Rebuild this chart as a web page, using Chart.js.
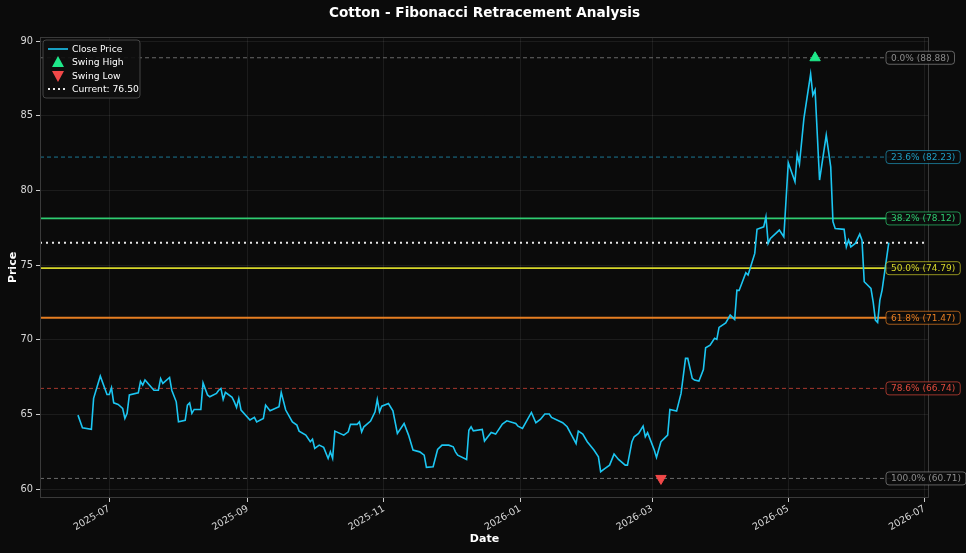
<!DOCTYPE html>
<html>
<head>
<meta charset="utf-8">
<script src="https://cdn.jsdelivr.net/npm/chart.js@4.4.0/dist/chart.umd.min.js"></script>
<style>
  html, body { margin: 0; padding: 0; background: #0b0b0b; }
  #wrap { width: 966px; height: 553px; }
</style>
</head>
<body>
<div id="wrap"><canvas id="myChart" width="966" height="553"></canvas></div>
<script>
// close prices
var dates = [
  '2025-06-17','2025-06-19','2025-06-23','2025-06-24','2025-06-27','2025-06-30','2025-07-01','2025-07-02','2025-07-03','2025-07-05',
  '2025-07-07','2025-07-08','2025-07-09','2025-07-10','2025-07-14','2025-07-15','2025-07-16','2025-07-17','2025-07-21','2025-07-23',
  '2025-07-24','2025-07-25','2025-07-28','2025-07-29','2025-07-31','2025-08-01','2025-08-04','2025-08-05','2025-08-06','2025-08-07',
  '2025-08-08','2025-08-11','2025-08-12','2025-08-14','2025-08-15','2025-08-18','2025-08-19','2025-08-20','2025-08-21','2025-08-22',
  '2025-08-25','2025-08-26','2025-08-27','2025-08-28','2025-08-29','2025-09-02','2025-09-04','2025-09-05','2025-09-08','2025-09-09',
  '2025-09-11','2025-09-15','2025-09-16','2025-09-18','2025-09-21','2025-09-23','2025-09-24','2025-09-27','2025-09-29','2025-09-30',
  '2025-10-01','2025-10-03','2025-10-05','2025-10-07','2025-10-08','2025-10-09','2025-10-10','2025-10-14','2025-10-16','2025-10-17',
  '2025-10-20','2025-10-21','2025-10-22','2025-10-23','2025-10-26','2025-10-28','2025-10-29','2025-10-30','2025-10-31','2025-11-03',
  '2025-11-05','2025-11-07','2025-11-10','2025-11-12','2025-11-14','2025-11-17','2025-11-19','2025-11-20','2025-11-23','2025-11-25',
  '2025-11-27','2025-11-30','2025-12-02','2025-12-03','2025-12-04','2025-12-08','2025-12-09','2025-12-10','2025-12-11','2025-12-15',
  '2025-12-16','2025-12-19','2025-12-21','2025-12-24','2025-12-26','2025-12-30','2025-12-31','2026-01-02','2026-01-06','2026-01-08',
  '2026-01-10','2026-01-12','2026-01-14','2026-01-15','2026-01-20','2026-01-22','2026-01-24','2026-01-26','2026-01-27','2026-01-29',
  '2026-01-31','2026-02-03','2026-02-05','2026-02-06','2026-02-08','2026-02-10','2026-02-12','2026-02-14','2026-02-17','2026-02-18',
  '2026-02-20','2026-02-21','2026-02-23','2026-02-25','2026-02-26','2026-02-27','2026-02-28','2026-03-02','2026-03-03','2026-03-05',
  '2026-03-08','2026-03-09','2026-03-12','2026-03-14','2026-03-16','2026-03-17','2026-03-19','2026-03-20','2026-03-22','2026-03-24',
  '2026-03-25','2026-03-27','2026-03-29','2026-03-30','2026-03-31','2026-04-03','2026-04-05','2026-04-07','2026-04-08','2026-04-09',
  '2026-04-12','2026-04-13','2026-04-16','2026-04-17','2026-04-20','2026-04-21','2026-04-22','2026-04-23','2026-04-27','2026-04-29',
  '2026-05-01','2026-05-04','2026-05-05','2026-05-06','2026-05-08','2026-05-11','2026-05-12','2026-05-13','2026-05-15','2026-05-18',
  '2026-05-20','2026-05-21','2026-05-22','2026-05-26','2026-05-27','2026-05-28','2026-05-29','2026-05-31','2026-06-02','2026-06-03',
  '2026-06-04','2026-06-07','2026-06-08','2026-06-09','2026-06-10','2026-06-11','2026-06-12','2026-06-15'
];
var closes = [
  64.95, 64.10, 64.00, 66.07, 67.56, 66.33, 66.33, 66.78, 65.77, 65.67,
  65.40, 64.73, 65.07, 66.30, 66.44, 67.20, 66.96, 67.30, 66.62, 66.62,
  67.40, 67.07, 67.47, 66.62, 65.84, 64.50, 64.60, 65.62, 65.77, 65.07,
  65.33, 65.33, 67.11, 66.30, 66.18, 66.40, 66.62, 66.74, 66.00, 66.47,
  66.14, 65.84, 65.47, 66.07, 65.29, 64.62, 64.80, 64.50, 64.73, 65.62,
  65.24, 65.51, 66.47, 65.29, 64.50, 64.28, 63.88, 63.61, 63.17, 63.34,
  62.72, 62.94, 62.79, 62.05, 62.49, 62.05, 63.88, 63.61, 63.83, 64.33,
  64.33, 64.50, 63.83, 64.17, 64.55, 65.17, 66.00, 65.17, 65.55, 65.73,
  65.24, 63.72, 64.39, 63.61, 62.61, 62.49, 62.27, 61.45, 61.49, 62.65,
  62.94, 62.94, 62.83, 62.49, 62.27, 61.98, 63.94, 64.17, 63.90, 63.99,
  63.21, 63.79, 63.68, 64.35, 64.57, 64.39, 64.21, 64.06, 65.13, 64.44,
  64.66, 65.02, 65.02, 64.80, 64.44, 64.17, 63.61, 63.05, 63.88, 63.68,
  63.17, 62.61, 62.16, 61.16, 61.38, 61.60, 62.34, 61.98, 61.60, 61.60,
  63.17, 63.50, 63.72, 64.21, 63.50, 63.77, 63.39, 62.61, 62.12, 63.17,
  63.61, 65.33, 65.22, 66.40, 68.75, 68.75, 67.41, 67.30, 67.23, 68.00,
  69.46, 69.64, 70.09, 70.02, 70.82, 71.13, 71.65, 71.36, 73.32, 73.30,
  74.48, 74.33, 75.78, 77.39, 77.56, 78.23, 76.45, 76.78, 77.34, 76.89,
  81.85, 80.58, 82.41, 81.76, 84.82, 87.79, 86.38, 86.72, 80.69, 83.70,
  81.58, 77.90, 77.45, 77.39, 76.22, 76.67, 76.22, 76.45, 77.07, 76.67,
  73.88, 73.44, 72.54, 71.31, 71.16, 72.65, 73.32, 76.50
];

var fibNames = ['0.0%', '23.6%', '38.2%', '50.0%', '61.8%', '78.6%', '100.0%'];
var fibLevels = [88.88, 82.23, 78.12, 74.79, 71.47, 66.74, 60.71];
var fibColors = ['#8c8c8c', '#1f9ec4', '#2ecc71', '#d6d62a', '#e67e22', '#e04a3c', '#8c8c8c'];
var fibSolid = [false, false, true, true, true, false, false];

var swingHighDate = '2026-05-13';
var swingHighPrice = 88.88;
var swingLowDate = '2026-03-05';
var swingLowPrice = 60.71;
var currentPrice = 76.50;

var xTickDates = ['2025-07-01', '2025-09-01', '2025-11-01', '2026-01-01', '2026-03-01', '2026-05-01', '2026-07-01'];
var yTicks = [60, 65, 70, 75, 80, 85, 90];
var xRange = ['2025-05-31', '2026-07-03'];
var yRange = [59.4, 90.27];

var FONT = "'DejaVu Sans', sans-serif";
var xMin = Date.parse(xRange[0]);
var xMax = Date.parse(xRange[1]);

var closeData = [];
for (var i = 0; i < dates.length; i++) {
  closeData.push({ x: Date.parse(dates[i]), y: closes[i] });
}

var datasets = [];
datasets.push({
  label: 'Close Price',
  data: closeData,
  borderColor: '#1cc6f2',
  borderWidth: 1.6,
  pointRadius: 0,
  tension: 0,
  order: 2
});
datasets.push({
  label: 'Swing High',
  data: [{ x: Date.parse(swingHighDate), y: swingHighPrice }],
  showLine: false,
  pointStyle: 'triangle',
  pointRadius: 6,
  backgroundColor: '#1ee88a',
  borderColor: '#1ee88a',
  order: 0
});
datasets.push({
  label: 'Swing Low',
  data: [{ x: Date.parse(swingLowDate), y: swingLowPrice }],
  showLine: false,
  pointStyle: 'triangle',
  rotation: 180,
  pointRadius: 6,
  backgroundColor: '#f04848',
  borderColor: '#f04848',
  order: 0
});
for (var k = 0; k < fibLevels.length; k++) {
  datasets.push({
    label: 'fib' + k,
    data: [{ x: xMin, y: fibLevels[k] }, { x: xMax, y: fibLevels[k] }],
    borderColor: fibSolid[k] ? fibColors[k] : fibColors[k] + 'bb',
    borderWidth: fibSolid[k] ? 1.8 : 1,
    borderDash: fibSolid[k] ? [] : [4, 3],
    pointRadius: 0,
    order: 5
  });
}
datasets.push({
  label: 'Current: ' + currentPrice.toFixed(2),
  data: [{ x: xMin, y: currentPrice }, { x: xMax, y: currentPrice }],
  borderColor: '#e8e8e8',
  borderWidth: 2,
  borderDash: [2, 4],
  pointRadius: 0,
  order: 4
});

function roundRect(ctx, x, y, w, h, r) {
  ctx.beginPath();
  ctx.moveTo(x + r, y);
  ctx.lineTo(x + w - r, y);
  ctx.quadraticCurveTo(x + w, y, x + w, y + r);
  ctx.lineTo(x + w, y + h - r);
  ctx.quadraticCurveTo(x + w, y + h, x + w - r, y + h);
  ctx.lineTo(x + r, y + h);
  ctx.quadraticCurveTo(x, y + h, x, y + h - r);
  ctx.lineTo(x, y + r);
  ctx.quadraticCurveTo(x, y, x + r, y);
  ctx.closePath();
}

var extras = {
  id: 'extras',
  beforeDraw: function (chart) {
    var ctx = chart.ctx;
    ctx.save();
    ctx.fillStyle = '#0b0b0b';
    ctx.fillRect(0, 0, chart.width, chart.height);
    ctx.restore();
  },
  afterDraw: function (chart) {
    var ctx = chart.ctx;
    var a = chart.chartArea;
    var ys = chart.scales.y;
    ctx.save();

    // frame
    ctx.strokeStyle = '#3a3a3a';
    ctx.lineWidth = 1;
    ctx.strokeRect(a.left + 0.5, a.top + 0.5, a.right - a.left - 1, a.bottom - a.top - 1);

    // title
    ctx.fillStyle = '#ffffff';
    ctx.font = 'bold 13.6px ' + FONT;
    ctx.textAlign = 'center';
    ctx.textBaseline = 'middle';
    ctx.fillText('Cotton - Fibonacci Retracement Analysis', (a.left + a.right) / 2, 13);

    // fib labels
    ctx.font = '9px ' + FONT;
    ctx.textAlign = 'left';
    for (var k = 0; k < fibLevels.length; k++) {
      var txt = fibNames[k] + ' (' + fibLevels[k].toFixed(2) + ')';
      var py = ys.getPixelForValue(fibLevels[k]);
      var bx = a.right - 43;
      var w = ctx.measureText(txt).width + 10;
      ctx.fillStyle = 'rgba(12,12,12,0.85)';
      roundRect(ctx, bx, py - 6.5, w, 13, 3);
      ctx.fill();
      ctx.strokeStyle = fibColors[k] + 'aa';
      ctx.lineWidth = 1;
      ctx.stroke();
      ctx.fillStyle = fibColors[k];
      ctx.fillText(txt, bx + 5, py + 0.5);
    }

    // legend
    var lx = a.left + 3, ly = a.top + 3;
    ctx.fillStyle = 'rgba(14,14,14,0.9)';
    roundRect(ctx, lx, ly, 97, 58, 3);
    ctx.fill();
    ctx.strokeStyle = '#444444';
    ctx.stroke();
    ctx.font = '9.2px ' + FONT;
    ctx.textBaseline = 'middle';
    var rows = [ly + 9, ly + 22, ly + 36, ly + 49];
    ctx.strokeStyle = '#1cc6f2';
    ctx.lineWidth = 1.6;
    ctx.beginPath();
    ctx.moveTo(lx + 5, rows[0]);
    ctx.lineTo(lx + 25, rows[0]);
    ctx.stroke();
    ctx.fillStyle = '#1ee88a';
    ctx.beginPath();
    ctx.moveTo(lx + 15, rows[1] - 6);
    ctx.lineTo(lx + 21, rows[1] + 5);
    ctx.lineTo(lx + 9, rows[1] + 5);
    ctx.closePath();
    ctx.fill();
    ctx.fillStyle = '#f04848';
    ctx.beginPath();
    ctx.moveTo(lx + 9, rows[2] - 5);
    ctx.lineTo(lx + 21, rows[2] - 5);
    ctx.lineTo(lx + 15, rows[2] + 6);
    ctx.closePath();
    ctx.fill();
    ctx.strokeStyle = '#e8e8e8';
    ctx.lineWidth = 2;
    ctx.setLineDash([2, 3]);
    ctx.beginPath();
    ctx.moveTo(lx + 5, rows[3]);
    ctx.lineTo(lx + 25, rows[3]);
    ctx.stroke();
    ctx.setLineDash([]);
    ctx.fillStyle = '#ffffff';
    var names = ['Close Price', 'Swing High', 'Swing Low', 'Current: ' + currentPrice.toFixed(2)];
    for (var r = 0; r < names.length; r++) {
      ctx.fillText(names[r], lx + 29, rows[r] + 0.5);
    }
    ctx.restore();
  }
};

function ym(v) {
  var d = new Date(v);
  var m = d.getUTCMonth() + 1;
  return d.getUTCFullYear() + '-' + (m < 10 ? '0' + m : m);
}

let myChart = document.getElementById('myChart').getContext('2d');

let fibChart = new Chart(myChart, {
  type: 'line',
  data: { datasets: datasets },
  options: {
    responsive: false,
    animation: false,
    layout: { padding: { top: 37, right: 37, left: 0, bottom: 0 } },
    plugins: {
      legend: { display: false },
      tooltip: { enabled: false },
      title: { display: false }
    },
    scales: {
      x: {
        type: 'linear',
        min: xMin,
        max: xMax,
        afterBuildTicks: function (scale) {
          scale.ticks = xTickDates.map(function (d) { return { value: Date.parse(d) }; });
        },
        afterFit: function (scale) { scale.height = 55; },
        ticks: {
          color: '#d8d8d8',
          font: { family: FONT, size: 9.6 },
          minRotation: 30,
          maxRotation: 30,
          padding: 1,
          callback: function (v) { return ym(v); }
        },
        grid: { color: 'rgba(255,255,255,0.07)', tickColor: '#cccccc', tickLength: 4 },
        border: { display: false },
        title: { display: true, text: 'Date', color: '#ffffff', font: { family: FONT, size: 11, weight: 'bold' }, padding: { top: 0, bottom: 7 } }
      },
      y: {
        min: yRange[0],
        max: yRange[1],
        afterBuildTicks: function (scale) {
          scale.ticks = yTicks.map(function (v) { return { value: v }; });
        },
        afterFit: function (scale) { scale.width = 40; },
        ticks: {
          color: '#d8d8d8',
          font: { family: FONT, size: 9.8 },
          padding: 3,
          callback: function (v) { return v; }
        },
        grid: { color: 'rgba(255,255,255,0.07)', tickColor: '#cccccc', tickLength: 4 },
        border: { display: false },
        title: { display: true, text: 'Price', color: '#ffffff', font: { family: FONT, size: 11, weight: 'bold' }, padding: { top: 7, bottom: 0 } }
      }
    }
  },
  plugins: [extras]
});
</script>
</body>
</html>
